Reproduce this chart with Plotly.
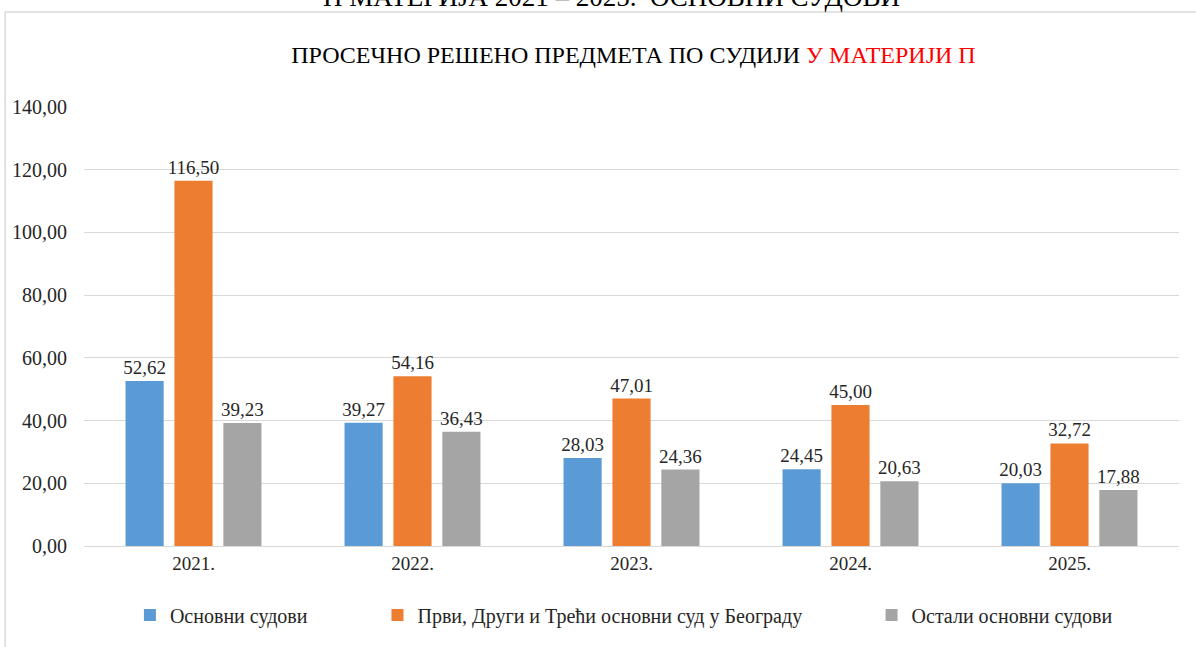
import plotly.graph_objects as go

years = ["2021.", "2022.", "2023.", "2024.", "2025."]
osnovni = [52.62, 39.27, 28.03, 24.45, 20.03]
beograd = [116.50, 54.16, 47.01, 45.00, 32.72]
ostali = [39.23, 36.43, 24.36, 20.63, 17.88]

names = ["Основни судови", "Први, Други и Трећи основни суд у Београду", "Остали основни судови"]
colors = ["#5B9BD5", "#ED7D31", "#A5A5A5"]
series = [osnovni, beograd, ostali]
legends = ["legend", "legend2", "legend3"]

FONT = "Liberation Serif"

fig = go.Figure()
for n, c, s, lg in zip(names, colors, series, legends):
    fig.add_trace(go.Bar(
        x=years, y=s, name=n, marker=dict(color=c, line=dict(width=0)),
        texttemplate="%{y:.2f}", textposition="outside", constraintext="none",
        textfont=dict(family=FONT, size=19, color="#262626"),
        cliponaxis=False, legend=lg,
    ))

L, R, T, B = 82, 17, 107, 101
W, H = 1196, 647
pw, ph = W - L - R, H - T - B

def px(x):
    return (x - L) / pw

def py(y):
    return 1 - (y - T) / ph

legend_common = dict(orientation="h", yanchor="middle", xanchor="left",
                     font=dict(family=FONT, size=20, color="#262626"),
                     bgcolor="rgba(0,0,0,0)", itemwidth=30)

fig.update_layout(
    width=W, height=H,
    margin=dict(l=L, r=R, t=T, b=B),
    paper_bgcolor="white", plot_bgcolor="white",
    separators=", ",
    barmode="group", bargap=0.33, bargroupgap=0.22,
    font=dict(family=FONT, size=18, color="#262626"),
    title=dict(
        text="ПРОСЕЧНО РЕШЕНО ПРЕДМЕТА ПО СУДИЈИ <span style='color:#FF0000'>У МАТЕРИЈИ П</span>",
        x=px(663), xanchor="center", y=1 - 55 / H, yanchor="middle",
        font=dict(family=FONT, size=24, color="#000000"),
    ),
    yaxis=dict(range=[0, 140], dtick=20, tickformat=".2f", showgrid=True,
               gridcolor="#D9D9D9", gridwidth=1, zeroline=False,
               ticks="", tickfont=dict(family=FONT, size=20, color="#262626"),
               ticklabelstandoff=16, showline=False),
    xaxis=dict(showline=True, linecolor="#D9D9D9", linewidth=1, ticks="",
               tickfont=dict(family=FONT, size=19, color="#262626")),
    legend=dict(x=px(128), y=py(615), **legend_common),
    legend2=dict(x=px(376), y=py(615), **legend_common),
    legend3=dict(x=px(871), y=py(615), **legend_common),
    showlegend=True,
)

fig.add_shape(type="rect", xref="paper", yref="paper",
              x0=px(3), x1=px(1210), y0=py(12), y1=py(700),
              line=dict(color="#D9D9D9", width=1.5), fillcolor="rgba(0,0,0,0)", layer="below")

fig.add_annotation(text="П МАТЕРИЈА 2021 – 2025.  ОСНОВНИ СУДОВИ", xref="paper", yref="paper",
                   x=px(610), y=py(-3), xanchor="center", yanchor="middle", showarrow=False,
                   font=dict(family=FONT, size=27, color="#000000"))

fig.write_html("out.html", config={"displayModeBar": False},
               post_script="document.body.style.margin='0';document.body.style.overflow='hidden';")
